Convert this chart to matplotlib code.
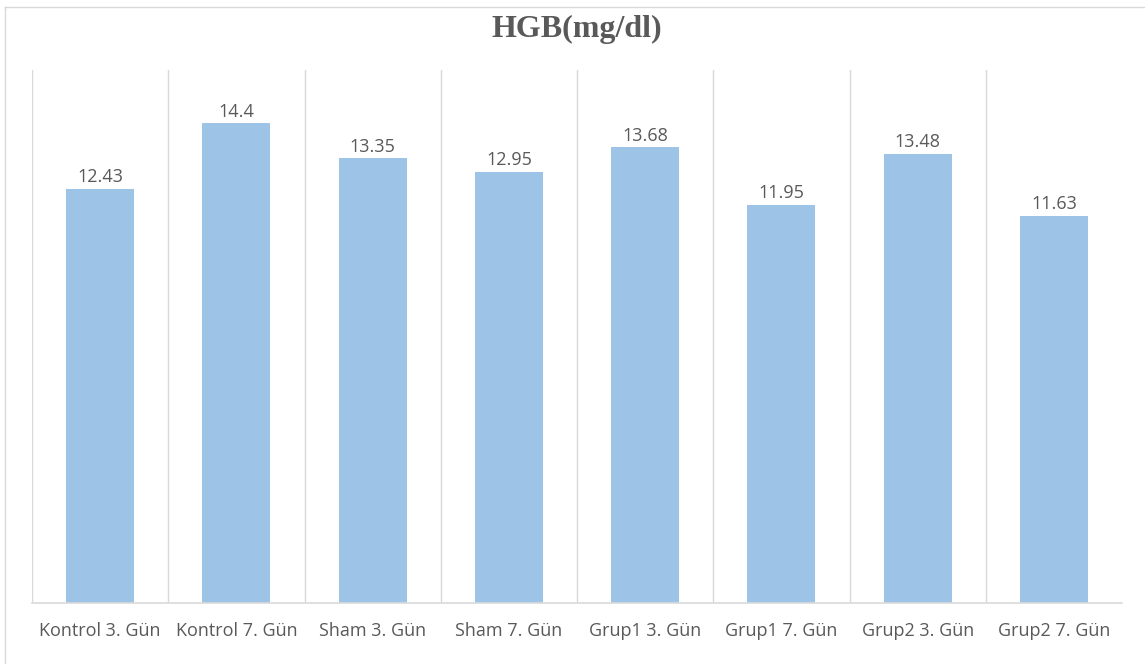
import matplotlib.pyplot as plt
from matplotlib.lines import Line2D
import numpy as np

categories = ["Kontrol 3. Gün", "Kontrol 7. Gün", "Sham 3. Gün", "Sham 7. Gün",
              "Grup1 3. Gün", "Grup1 7. Gün", "Grup2 3. Gün", "Grup2 7. Gün"]
values = [12.43, 14.4, 13.35, 12.95, 13.68, 11.95, 13.48, 11.63]
value_labels = ["12.43", "14.4", "13.35", "12.95", "13.68", "11.95", "13.48", "11.63"]

W, H = 1145, 664
fig = plt.figure(figsize=(W / 100, H / 100), dpi=100)
ax = fig.add_axes([32 / W, 1 - 603 / H, (1122 - 32) / W, (603 - 70) / H])

x = np.arange(len(categories))
ax.bar(x, values, width=0.5, color="#9dc3e6", zorder=2)

# vertical gridlines between categories
for b in np.arange(len(categories)) - 0.5:
    ax.axvline(b, color="#d9d9d9", lw=1.0, zorder=1)

for xi, v, lab in zip(x, values, value_labels):
    ax.text(xi, v + 0.08, lab, ha="center", va="bottom", fontsize=13,
            color="#595959", family="Open Sans")

ax.set_xlim(-0.5, len(categories) - 0.5)
ax.set_ylim(0, 16)
ax.set_xticks(x)
ax.set_xticklabels(categories, fontsize=13, color="#595959", family="Open Sans")
ax.tick_params(axis="x", length=0, pad=14)
ax.set_yticks([])
for s in ["top", "right", "left"]:
    ax.spines[s].set_visible(False)
ax.spines["bottom"].set_color("#d9d9d9")
ax.spines["bottom"].set_linewidth(1.2)

fig.text(577 / W, 1 - 29 / H, "HGB(mg/dl)", ha="center", va="center",
         fontsize=23, fontweight="bold", color="#595959", family="Liberation Serif")

# chart frame (only left and top edges fall inside the picture)
fig.add_artist(Line2D([5 / W, 5 / W], [0, 1 - 7 / H], transform=fig.transFigure,
                      color="#d9d9d9", lw=1))
fig.add_artist(Line2D([5 / W, 1], [1 - 7 / H, 1 - 7 / H], transform=fig.transFigure,
                      color="#d9d9d9", lw=1))

fig.savefig("out.png", dpi=100)
